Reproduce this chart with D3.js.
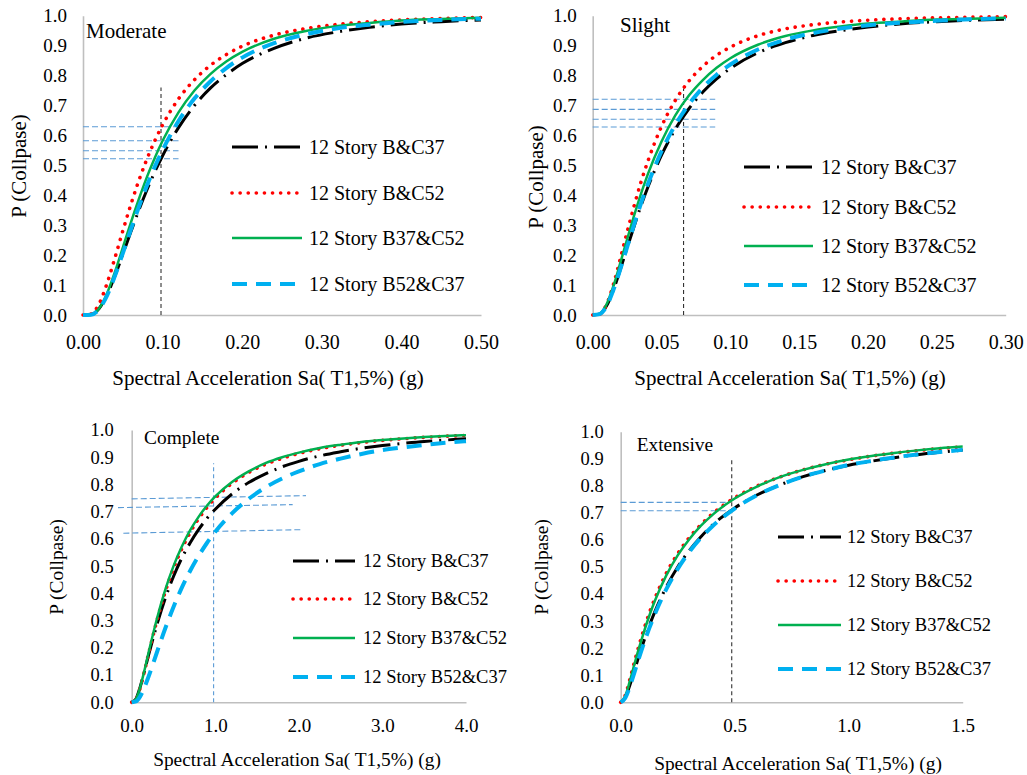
<!DOCTYPE html>
<html><head><meta charset="utf-8">
<script src="https://cdn.jsdelivr.net/npm/d3@7"></script>
<style>body{margin:0;background:#fff}svg{display:block}</style>
</head><body>
<svg id="c" width="1027" height="775"></svg>
<script>
// ---------- DATA ----------
const seriesNames = ["12 Story B&C37", "12 Story B&C52", "12 Story B37&C52", "12 Story B52&C37"];
const yTicks = [0,0.1,0.2,0.3,0.4,0.5,0.6,0.7,0.8,0.9,1.0];

const moderateX = [0,0.01,0.02,0.03,0.04,0.05,0.06,0.07,0.08,0.09,0.10,0.12,0.14,0.16,0.18,0.20,0.24,0.28,0.32,0.36,0.40,0.45,0.50];
const moderateBC37 = [0,0.002,0.021,0.066,0.130,0.203,0.277,0.349,0.416,0.477,0.532,0.626,0.700,0.758,0.803,0.840,0.891,0.925,0.946,0.961,0.972,0.980,0.986];
const moderateBC52 = [0,0.003,0.036,0.104,0.190,0.281,0.368,0.448,0.519,0.581,0.635,0.722,0.786,0.834,0.870,0.898,0.935,0.957,0.971,0.980,0.986,0.991,0.994];
const moderateB37C52 = [0,0.001,0.021,0.071,0.143,0.225,0.308,0.386,0.459,0.524,0.582,0.677,0.750,0.805,0.847,0.879,0.923,0.949,0.966,0.976,0.984,0.989,0.993];
const moderateB52C37 = [0,0.001,0.019,0.064,0.130,0.206,0.284,0.360,0.430,0.494,0.551,0.648,0.723,0.780,0.825,0.860,0.908,0.938,0.958,0.970,0.979,0.986,0.990];
const moderateTicks = [0,0.1,0.2,0.3,0.4,0.5];
const moderateGuideX = 0.098, moderateGuideTop = 0.76;
const moderateGuideY = [[0,0.629,0.12,0.629],[0,0.582,0.12,0.582],[0,0.549,0.12,0.549],[0,0.522,0.12,0.522]];

const slightX = [0,0.005,0.01,0.015,0.02,0.025,0.03,0.035,0.04,0.05,0.06,0.07,0.08,0.09,0.10,0.12,0.14,0.16,0.18,0.20,0.225,0.25,0.275,0.30];
const slightBC37 = [0,0.003,0.030,0.083,0.151,0.224,0.295,0.364,0.426,0.534,0.621,0.690,0.745,0.789,0.824,0.876,0.910,0.934,0.950,0.962,0.973,0.980,0.985,0.988];
const slightBC52 = [0,0.003,0.035,0.101,0.187,0.277,0.363,0.443,0.513,0.630,0.717,0.782,0.831,0.868,0.895,0.933,0.956,0.970,0.979,0.985,0.990,0.993,0.995,0.997];
const slightB37C52 = [0,0.004,0.035,0.096,0.173,0.253,0.331,0.404,0.470,0.580,0.667,0.734,0.785,0.826,0.858,0.903,0.932,0.951,0.964,0.974,0.981,0.987,0.990,0.993];
const slightB52C37 = [0,0.003,0.029,0.083,0.152,0.227,0.301,0.372,0.436,0.547,0.635,0.705,0.760,0.803,0.837,0.887,0.920,0.942,0.957,0.968,0.977,0.983,0.988,0.991];
const slightTicks = [0,0.05,0.1,0.15,0.2,0.25,0.3];
const slightGuideX = 0.066, slightGuideTop = 0.757;
const slightGuideY = [[0,0.721,0.089,0.721],[0,0.687,0.089,0.687],[0,0.654,0.089,0.654],[0,0.628,0.089,0.628]];

const completeX = [0,0.05,0.1,0.15,0.2,0.3,0.4,0.5,0.6,0.7,0.8,0.9,1.0,1.2,1.4,1.6,1.8,2.0,2.25,2.5,2.75,3.0,3.25,3.5,3.75,4.0];
const completeBC37 = [0,0.012,0.055,0.111,0.171,0.283,0.380,0.462,0.530,0.586,0.634,0.675,0.709,0.765,0.807,0.839,0.865,0.885,0.905,0.920,0.933,0.943,0.951,0.958,0.963,0.968];
const completeBC52 = [0,0.010,0.052,0.111,0.175,0.298,0.404,0.492,0.564,0.624,0.674,0.715,0.750,0.804,0.844,0.874,0.896,0.914,0.931,0.944,0.954,0.962,0.968,0.973,0.977,0.980];
const completeB37C52 = [0,0.011,0.054,0.114,0.180,0.305,0.412,0.500,0.572,0.632,0.681,0.722,0.756,0.809,0.848,0.878,0.900,0.917,0.934,0.946,0.956,0.963,0.969,0.974,0.978,0.981];
const completeB52C37 = [0,0.003,0.021,0.053,0.093,0.182,0.270,0.350,0.421,0.483,0.537,0.585,0.626,0.694,0.747,0.789,0.822,0.848,0.875,0.895,0.912,0.926,0.936,0.945,0.953,0.959];
const completeTicks = [0,1,2,3,4];
const completeGuideX = 0.98, completeGuideTop = 0.878;
const completeGuideY = [[0,0.747,2.085,0.759],[-0.164,0.715,1.926,0.726],[-0.10,0.621,2.04,0.634]];

const extensiveX = [0,0.02,0.04,0.06,0.08,0.1,0.125,0.15,0.2,0.25,0.3,0.35,0.4,0.5,0.6,0.7,0.8,0.9,1.0,1.1,1.2,1.3,1.4,1.5];
const extensiveBC37 = [0,0.018,0.063,0.117,0.171,0.222,0.282,0.335,0.426,0.500,0.560,0.610,0.653,0.718,0.767,0.804,0.834,0.857,0.876,0.891,0.904,0.915,0.924,0.932];
const extensiveBC52 = [0,0.026,0.084,0.148,0.209,0.265,0.329,0.384,0.477,0.549,0.608,0.655,0.695,0.756,0.800,0.833,0.859,0.880,0.896,0.910,0.921,0.930,0.938,0.944];
const extensiveB37C52 = [0,0.023,0.078,0.140,0.200,0.255,0.319,0.375,0.469,0.543,0.602,0.651,0.691,0.753,0.798,0.833,0.859,0.880,0.897,0.910,0.921,0.931,0.939,0.945];
const extensiveB52C37 = [0,0.016,0.058,0.110,0.163,0.214,0.273,0.326,0.418,0.493,0.555,0.606,0.649,0.716,0.766,0.804,0.834,0.857,0.877,0.892,0.905,0.916,0.925,0.933];
const extensiveTicks = [0,0.5,1.0,1.5];
const extensiveGuideX = 0.487, extensiveGuideTop = 0.905;
const extensiveGuideY = [[0,0.739,0.47,0.739],[0,0.708,0.47,0.708]];

// ---------- STYLES ----------
const styles = [
  {color:"#000000", width:3, dash:"26,7,2,7", cap:"butt"},
  {color:"#ff0000", width:3.6, dash:"0.1,8", cap:"round"},
  {color:"#00b050", width:2.5, dash:null, cap:"butt"},
  {color:"#00b0f0", width:4, dash:"15,9", cap:"butt"}
];

const panels = [
  {title:"Moderate", x:moderateX, ys:[moderateBC37,moderateBC52,moderateB37C52,moderateB52C37], ticks:moderateTicks, fmt:".2f",
   gx:moderateGuideX, gTop:moderateGuideTop, gY:moderateGuideY, vColor:"#333", 
   L:83, R:481, T:15.7, B:315, yPad:16, xPad:19.5, tickFsY:19, tickFsX:20, fs:21,
   titleX:86, titleY:31, xtX:268, xtY:378, ytX:18.3, ytY:166,
   legX1:232, legX2:302, legTX:309, legY:[147,193,238,284], legFs:20},
  {title:"Slight", x:slightX, ys:[slightBC37,slightBC52,slightB37C52,slightB52C37], ticks:slightTicks, fmt:".2f",
   gx:slightGuideX, gTop:slightGuideTop, gY:slightGuideY, vColor:"#333",
   L:592.7, R:1005.7, T:15.7, B:315, yPad:16, xPad:19.5, tickFsY:19, tickFsX:20, fs:21,
   titleX:620, titleY:25, xtX:790, xtY:378, ytX:536, ytY:177,
   legX1:744, legX2:813, legTX:821, legY:[167,207,246,285], legFs:20},
  {title:"Complete", x:completeX, ys:[completeBC37,completeBC52,completeB37C52,completeB52C37], ticks:completeTicks, fmt:".1f",
   gx:completeGuideX, gTop:completeGuideTop, gY:completeGuideY, vColor:"#5b9bd5",
   L:131.7, R:466, T:430, B:702.3, yPad:18, xPad:16, tickFsY:18.5, tickFsX:19, fs:19.4,
   titleX:144, titleY:437, xtX:297, xtY:759, ytX:56.7, ytY:567,
   legX1:293, legX2:355, legTX:363, legY:[561,599,638,677], legFs:18.5},
  {title:"Extensive", x:extensiveX, ys:[extensiveBC37,extensiveBC52,extensiveB37C52,extensiveB52C37], ticks:extensiveTicks, fmt:".1f",
   gx:extensiveGuideX, gTop:extensiveGuideTop, gY:extensiveGuideY, vColor:"#333",
   L:620.7, R:962.7, T:431.7, B:702.3, yPad:17, xPad:16, tickFsY:18.5, tickFsX:19, fs:19.4,
   titleX:636.7, titleY:444, xtX:798, xtY:763, ytX:541.7, ytY:567,
   legX1:778, legX2:841, legTX:847, legY:[537,581,625,669], legFs:18.5}
];

const FONT = "'Liberation Serif','Times New Roman',serif";
const svg = d3.select("#c");
svg.append("rect").attr("width",1027).attr("height",775).attr("fill","#fff");

panels.forEach(p => {
  const xmax = p.ticks[p.ticks.length-1];
  const x = d3.scaleLinear().domain([0, xmax]).range([p.L, p.R]);
  const y = d3.scaleLinear().domain([0, 1]).range([p.B, p.T]);
  const g = svg.append("g");

  // y axis
  const ya = g.append("g").attr("transform",`translate(${p.L},0)`)
    .call(d3.axisLeft(y).tickValues(yTicks).tickFormat(d3.format(".1f")).tickSize(0).tickPadding(p.yPad));
  ya.select(".domain").attr("stroke","#bfbfbf").attr("stroke-width",1.6);
  ya.selectAll("text").attr("font-family",FONT).attr("font-size",p.tickFsY).attr("fill","#000");

  // x axis
  const xa = g.append("g").attr("transform",`translate(0,${p.B})`)
    .call(d3.axisBottom(x).tickValues(p.ticks).tickFormat(d3.format(p.fmt)).tickSize(0).tickPadding(p.xPad));
  xa.select(".domain").attr("stroke","#bfbfbf").attr("stroke-width",1.6);
  xa.selectAll("text").attr("font-family",FONT).attr("font-size",p.tickFsX).attr("fill","#000");

  // guide lines
  g.append("line").attr("x1",x(p.gx)).attr("x2",x(p.gx)).attr("y1",y(0)).attr("y2",y(p.gTop))
    .attr("stroke",p.vColor).attr("stroke-width",1.1).attr("stroke-dasharray","4,3");
  p.gY.forEach(s => {
    g.append("line").attr("x1",x(s[0])).attr("y1",y(s[1])).attr("x2",x(s[2])).attr("y2",y(s[3]))
      .attr("stroke","#5b9bd5").attr("stroke-width",1.1).attr("stroke-dasharray","6,3");
  });

  // curves
  const line = d3.line().x(d=>x(d[0])).y(d=>y(d[1])).curve(d3.curveMonotoneX);
  p.ys.forEach((vals,i) => {
    const st = styles[i];
    g.append("path").datum(p.x.map((xv,k)=>[xv, vals[k]]))
      .attr("d",line).attr("fill","none").attr("stroke",st.color).attr("stroke-width",st.width)
      .attr("stroke-dasharray",st.dash).attr("stroke-linecap",st.cap);
  });

  // legend
  seriesNames.forEach((nm,i) => {
    const st = styles[i];
    g.append("line").attr("x1",p.legX1).attr("x2",p.legX2).attr("y1",p.legY[i]).attr("y2",p.legY[i])
      .attr("stroke",st.color).attr("stroke-width",st.width).attr("stroke-dasharray",st.dash).attr("stroke-linecap",st.cap);
    g.append("text").attr("x",p.legTX).attr("y",p.legY[i]).attr("dy","0.35em")
      .attr("font-family",FONT).attr("font-size",p.legFs).text(nm);
  });

  // titles
  g.append("text").attr("x",p.titleX).attr("y",p.titleY).attr("dy","0.35em")
    .attr("font-family",FONT).attr("font-size",p.fs).text(p.title);
  g.append("text").attr("x",p.xtX).attr("y",p.xtY).attr("dy","0.35em").attr("text-anchor","middle")
    .attr("font-family",FONT).attr("font-size",p.fs).text("Spectral Acceleration Sa( T1,5%) (g)");
  g.append("text").attr("transform",`translate(${p.ytX},${p.ytY}) rotate(-90)`).attr("dy","0.35em").attr("text-anchor","middle")
    .attr("font-family",FONT).attr("font-size",p.fs).text("P (Collpase)");
});
</script>
</body></html>
